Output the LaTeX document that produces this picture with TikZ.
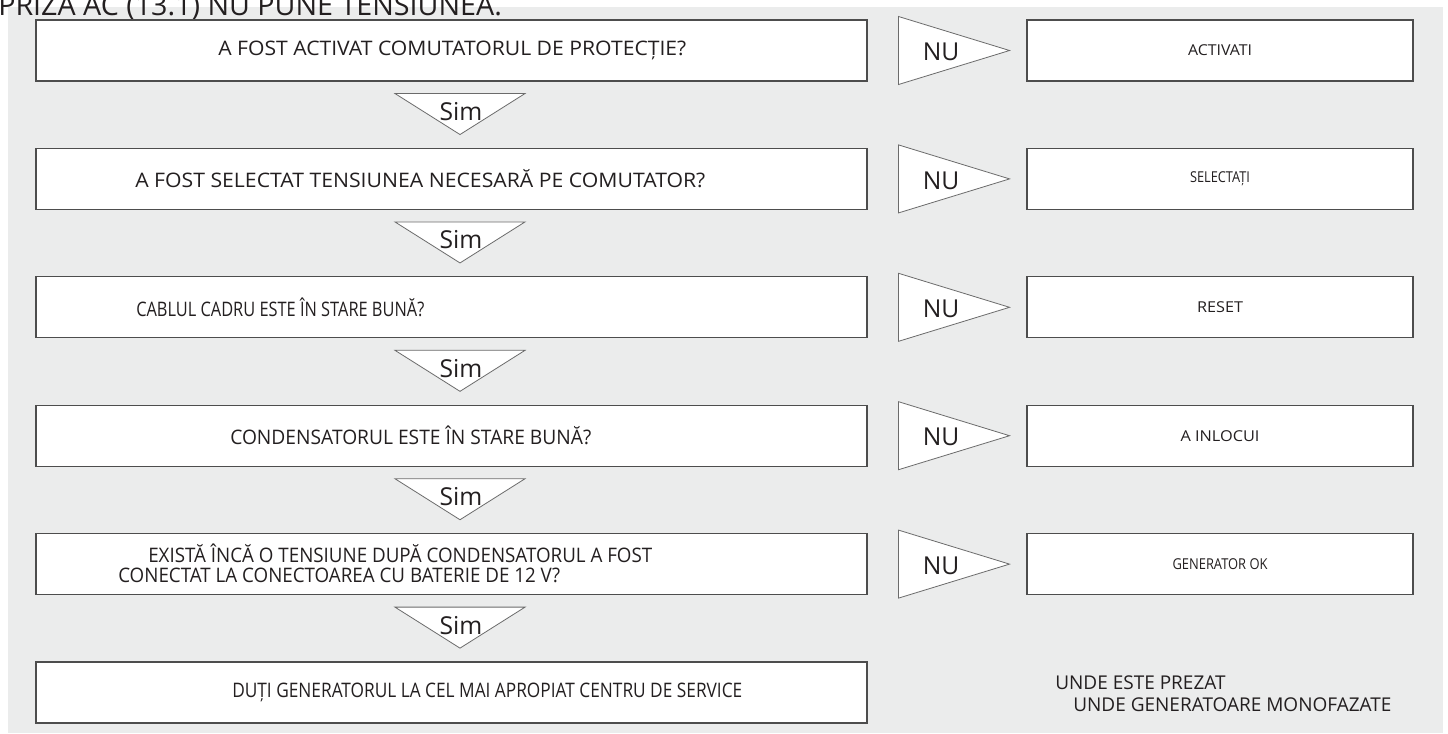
\documentclass[tikz,border=0pt]{standalone}
\usepackage{fontspec}
\setmainfont{Open Sans}
\usepackage{graphicx}
\usetikzlibrary{calc}
\definecolor{PanelGray}{HTML}{EBECEC}
\definecolor{BoxLine}{HTML}{4D4D4D}
\definecolor{TriLine}{HTML}{6B6B6B}
\definecolor{InkDark}{HTML}{231F20}
\newlength{\pxu}
\setlength{\pxu}{0.75pt}
% stretch a text to a width given in pixels
\newcommand{\fitto}[2]{\resizebox{#1\pxu}{\height}{#2}}

\begin{document}
\begin{tikzpicture}[x=0.75pt, y=-0.75pt,
    qbox/.style={draw=BoxLine, fill=white, line width=0.8pt, inner sep=0pt,
      minimum width=623.25pt, minimum height=45.75pt},
    abox/.style={qbox, minimum width=289.5pt},
    qtext/.style={text=InkDark, inner sep=0pt, font=\fontsize{15pt}{18pt}\selectfont},
    atext/.style={qtext, font=\fontsize{11.25pt}{13pt}\selectfont},
    mark text/.style={text=InkDark, inner sep=0pt, font=\fontsize{18.5pt}{21pt}\selectfont},
    tri/.style={draw=TriLine, fill=white, line width=0.6pt, line join=miter}]
  \useasboundingbox (0,0) rectangle (1448,733);
  % Panel
  \fill[PanelGray] (8,7) rectangle (1443,733);
  \node[anchor=base west, inner sep=0pt, text=InkDark,
    font=\fontsize{21.5pt}{24pt}\selectfont] (title) at (-2,15)
    {PRIZA AC (13.1) NU PUNE TENSIUNEA.};

  % Question boxes
  \foreach \i in {1,...,6} {
    \pgfmathsetmacro{\yc}{50.5+128.4*(\i-1)}
    \node[qbox] (q\i) at (451.5,\yc) {};
  }
  \foreach \i/\xl/\w/\txt in {1/218/468/{A FOST ACTIVAT COMUTATORUL DE PROTECȚIE?},
      2/135/570/{A FOST SELECTAT TENSIUNEA NECESARĂ PE COMUTATOR?},
      3/136/288/{CABLUL CADRU ESTE ÎN STARE BUNĂ?},
      4/230/361/{CONDENSATORUL ESTE ÎN STARE BUNĂ?},
      6/232/510/{DUȚI GENERATORUL LA CEL MAI APROPIAT CENTRU DE SERVICE}} {
    \pgfmathsetmacro{\yc}{50.5+128.4*(\i-1)}
    \node[qtext, anchor=west] (q\i t) at (\xl,\yc) {\fitto{\w}{\txt}};
  }
  \node[qtext, anchor=west] (q5a) at (148,553)
    {\fitto{504}{EXISTĂ ÎNCĂ O TENSIUNE DUPĂ CONDENSATORUL A FOST}};
  \node[qtext, anchor=west] (q5b) at (118,575)
    {\fitto{442}{CONECTAT LA CONECTOAREA CU BATERIE DE 12 V?}};

  % Answer boxes and NU marks
  \foreach \i/\w/\txt in {1/64/ACTIVATI, 2/60/SELECTAȚI, 3/46/RESET,
      4/79/A INLOCUI, 5/95/GENERATOR OK} {
    \pgfmathsetmacro{\yc}{50.5+128.4*(\i-1)}
    \node[abox] (a\i) at (1220,\yc) {};
    \node[atext] (a\i t) at (a\i.center) {\fitto{\w}{\txt}};
    \draw[tri] ($(q\i.east)+(31,-34)$) -- ($(q\i.east)+(31,34)$)
      -- ($(q\i.east)+(142,0)$) -- cycle;
    \node[mark text, anchor=west] (n\i) at ($(q\i.east)+(55,1.5)$) {NU};
  }

  % Sim marks
  \foreach \i in {1,...,5} {
    \draw[tri] ($(q\i.south)+(-56.5,12)$) -- ($(q\i.south)+(73.5,12)$)
      -- ($(q\i.south)+(8.5,53)$) -- cycle;
    \node[mark text] (s\i) at ($(q\i.south)+(9.5,30)$) {Sim};
  }

  % Note
  \node[anchor=west, inner sep=0pt, text=InkDark,
    font=\fontsize{14.25pt}{17pt}\selectfont] (note1) at (1055,683) {UNDE ESTE PREZAT};
  \node[anchor=west, inner sep=0pt, text=InkDark,
    font=\fontsize{14.25pt}{17pt}\selectfont] (note2) at (1073,705) {UNDE GENERATOARE MONOFAZATE};
\end{tikzpicture}
\end{document}
